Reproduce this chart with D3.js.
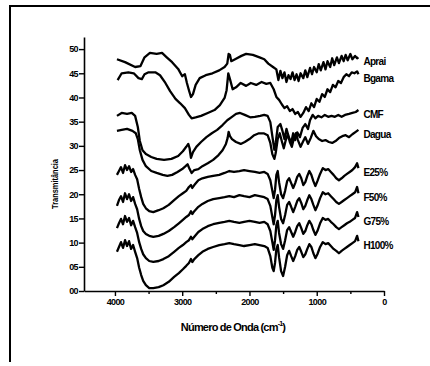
<!DOCTYPE html>
<html>
<head>
<meta charset="utf-8">
<script src="https://cdn.jsdelivr.net/npm/d3@7"></script>
<style>
  body { margin: 0; background: #fff; }
  svg { display: block; }
  text { font-family: "Liberation Sans", Arial, sans-serif; fill: #000; }
</style>
</head>
<body>
<svg id="chart" width="430" height="366"></svg>
<script>
// series labels, top to bottom
const seriesNames = ["Aprai", "Bgama", "CMF", "Dagua", "E25%", "F50%", "G75%", "H100%"];

// x axis ticks (wavenumber, cm-1)
const xTicks = [4000, 3000, 2000, 1000, 0];
const xMinorTicks = [3500, 2500, 1500, 500];
// y axis ticks
const yTicks = [0, 5, 10, 15, 20, 25, 30, 35, 40, 45, 50];

// [wavenumber, transmittance]
const aprai = [
  [3970,47.9],[3850,47.3],[3700,46.3],[3620,46.5],[3560,48.3],[3480,49.2],[3380,49.0],[3300,49.2],
  [3230,48.3],[3150,47.3],[3060,45.9],[3000,44.4],[2960,44.8],[2930,43.0],[2900,41.5],[2870,40.1],
  [2840,40.7],[2800,42.6],[2740,44.0],[2650,44.6],[2550,45.0],[2450,45.6],[2370,46.3],[2330,47.0],
  [2310,49.0],[2290,48.8],[2270,47.5],[2200,48.0],[2120,48.6],[2050,49.0],[1950,48.8],[1850,48.3],
  [1780,47.9],[1720,47.0],[1650,46.3],[1600,45.8],[1570,43.6],[1540,45.5],[1510,44.0],[1480,45.2],
  [1450,43.2],[1420,44.6],[1390,43.8],[1360,45.2],[1330,43.6],[1300,44.8],[1270,43.4],[1240,45.0],
  [1200,44.0],[1170,45.6],[1140,44.2],[1100,46.1],[1070,44.8],[1040,46.3],[1000,45.2],[970,46.9],
  [940,45.6],[900,47.3],[870,45.8],[840,47.5],[800,46.3],[770,48.1],[740,46.7],[700,48.3],
  [670,47.1],[630,48.6],[600,47.5],[570,48.8],[540,47.7],[500,49.0],[470,47.9],[430,48.6],
  [400,48.1],[380,48.3]
];

const bgama = [
  [3960,43.6],[3900,45.0],[3800,45.2],[3720,45.0],[3650,44.0],[3600,43.8],[3560,44.8],[3500,45.2],
  [3400,45.2],[3330,44.6],[3250,43.0],[3180,41.3],[3100,39.7],[3030,38.8],[2960,37.8],[2900,36.4],
  [2860,35.7],[2800,35.9],[2720,36.2],[2620,36.8],[2520,37.4],[2440,38.4],[2370,39.9],[2340,41.5],
  [2315,45.0],[2290,43.8],[2250,41.7],[2200,42.1],[2130,43.0],[2050,42.4],[1980,43.0],[1900,42.6],
  [1820,43.2],[1750,42.8],[1690,43.0],[1640,41.7],[1600,40.1],[1560,39.5],[1520,38.6],[1480,37.8],
  [1440,38.2],[1400,37.2],[1360,37.6],[1320,36.6],[1280,37.0],[1240,36.0],[1200,36.8],[1160,38.0],
  [1120,37.2],[1080,38.8],[1040,38.0],[1000,39.7],[960,39.1],[920,40.7],[880,40.1],[840,41.7],
  [800,41.1],[760,42.6],[720,42.1],[680,43.4],[640,43.0],[600,44.2],[560,44.8],[520,44.4],
  [480,45.2],[440,45.0],[400,45.4],[380,44.8]
];

const cmf = [
  [3970,36.2],[3900,36.8],[3820,36.6],[3750,36.8],[3700,36.2],[3660,33.9],[3630,31.0],[3590,29.1],
  [3540,28.3],[3460,27.7],[3380,27.3],[3270,27.1],[3160,27.3],[3060,27.9],[2990,28.9],[2940,29.8],
  [2910,30.4],[2890,29.5],[2870,27.5],[2840,28.7],[2790,29.8],[2720,30.8],[2640,31.8],[2560,32.6],
  [2480,33.3],[2400,34.3],[2330,35.3],[2260,36.0],[2200,36.6],[2140,36.8],[2070,36.4],[1990,35.9],
  [1920,36.0],[1840,36.2],[1780,36.4],[1730,36.2],[1690,34.9],[1660,32.0],[1630,29.2],[1610,30.6],
  [1580,33.9],[1540,34.5],[1510,33.1],[1480,31.4],[1450,33.5],[1420,32.0],[1380,30.6],[1350,32.6],
  [1320,31.2],[1290,32.8],[1250,31.8],[1210,33.7],[1170,34.5],[1130,33.5],[1100,35.3],[1060,36.4],
  [1020,35.7],[980,36.2],[930,35.9],[880,36.4],[830,36.0],[780,36.2],[730,36.0],[680,36.4],
  [630,36.0],[580,36.4],[520,36.6],[470,36.8],[420,37.0],[380,37.4]
];

const dagua = [
  [3970,33.1],[3900,33.3],[3820,33.5],[3740,33.1],[3690,32.6],[3660,31.4],[3630,29.1],[3590,27.1],
  [3540,25.8],[3460,24.8],[3380,24.4],[3290,24.0],[3220,23.8],[3150,24.0],[3070,24.6],[3000,25.2],
  [2950,25.8],[2920,26.2],[2890,25.2],[2860,24.4],[2820,25.0],[2760,25.2],[2700,25.8],[2620,26.4],
  [2540,27.1],[2460,28.1],[2400,29.1],[2350,30.4],[2325,31.6],[2310,32.9],[2290,32.0],[2260,31.4],
  [2200,30.8],[2130,30.4],[2070,30.8],[2000,31.4],[1930,32.2],[1860,32.6],[1790,32.6],[1730,32.2],
  [1690,30.6],[1660,28.3],[1630,27.3],[1610,28.5],[1580,31.4],[1550,32.6],[1520,31.0],[1490,29.5],
  [1460,31.2],[1430,32.4],[1400,30.8],[1370,29.8],[1340,31.6],[1310,32.6],[1280,31.2],[1240,29.8],
  [1200,31.0],[1170,31.8],[1130,30.4],[1090,31.6],[1050,33.1],[1010,32.0],[970,31.4],[920,31.0],
  [870,31.2],[820,30.8],[770,30.6],[720,31.0],[670,31.6],[620,32.0],[570,32.2],[520,31.8],
  [470,32.4],[420,32.9],[380,33.3]
];

const e25 = [
  [3970,24.0],[3940,24.8],[3910,25.6],[3880,24.4],[3850,26.0],[3820,25.0],[3790,25.8],[3760,24.6],
  [3730,25.2],[3700,24.0],[3670,23.1],[3640,21.1],[3610,19.4],[3580,18.0],[3540,17.1],[3490,16.5],
  [3430,16.3],[3350,16.7],[3280,17.1],[3200,17.8],[3120,18.8],[3050,19.6],[2990,20.2],[2940,20.7],
  [2900,21.5],[2870,21.9],[2850,21.3],[2820,21.9],[2760,22.9],[2700,23.3],[2620,23.6],[2540,23.8],
  [2450,24.0],[2370,24.4],[2300,24.8],[2230,24.6],[2150,24.8],[2080,25.0],[2000,24.8],[1920,24.6],
  [1850,24.4],[1780,24.6],[1730,24.2],[1690,22.9],[1660,20.7],[1640,19.2],[1620,20.9],[1600,24.0],
  [1580,24.8],[1560,22.5],[1530,20.0],[1500,19.2],[1470,20.7],[1440,22.7],[1410,23.3],[1380,22.3],
  [1350,21.3],[1320,22.3],[1290,23.6],[1260,24.2],[1230,23.3],[1200,21.9],[1170,22.5],[1140,23.8],
  [1110,24.8],[1080,24.0],[1050,22.7],[1020,21.7],[990,22.7],[950,24.2],[910,25.4],[870,25.0],
  [830,25.2],[790,24.6],[750,24.0],[710,23.3],[670,22.9],[630,23.3],[590,23.8],[550,24.2],
  [510,24.6],[470,25.0],[430,25.6],[400,26.4],[380,25.4]
];

const f50 = [
  [3970,17.6],[3940,18.8],[3910,19.6],[3880,18.4],[3850,20.2],[3820,19.0],[3790,20.0],[3760,18.6],
  [3730,19.4],[3700,18.0],[3670,16.9],[3640,14.9],[3610,13.4],[3580,12.4],[3540,11.8],[3490,11.4],
  [3430,11.2],[3350,11.4],[3280,11.8],[3200,12.4],[3120,13.2],[3050,14.0],[2990,14.7],[2940,15.3],
  [2900,15.7],[2870,16.5],[2850,15.9],[2820,16.5],[2760,17.4],[2700,18.0],[2620,18.6],[2540,19.0],
  [2450,19.2],[2370,19.4],[2300,19.6],[2230,19.4],[2150,19.8],[2080,19.6],[2000,19.4],[1920,19.8],
  [1850,19.6],[1780,19.4],[1730,19.0],[1690,17.6],[1660,15.3],[1640,13.8],[1620,15.7],[1600,18.8],
  [1580,19.8],[1560,17.4],[1530,14.9],[1500,14.0],[1470,15.7],[1440,17.8],[1410,18.4],[1380,17.4],
  [1350,16.3],[1320,17.4],[1290,18.6],[1260,19.2],[1230,18.2],[1200,16.9],[1170,17.6],[1140,18.8],
  [1110,19.8],[1080,19.0],[1050,17.8],[1020,16.7],[990,17.6],[950,19.2],[910,20.4],[870,20.0],
  [830,20.2],[790,19.6],[750,19.0],[710,18.4],[670,18.0],[630,18.4],[590,18.8],[550,19.2],
  [510,19.6],[470,20.0],[430,20.4],[400,21.5],[380,20.2]
];

const g75 = [
  [3970,13.0],[3940,14.0],[3910,14.9],[3880,13.8],[3850,15.5],[3820,14.3],[3790,15.1],[3760,13.6],
  [3730,14.5],[3700,13.2],[3670,12.0],[3640,10.1],[3610,8.7],[3580,7.6],[3540,6.8],[3490,6.2],
  [3430,6.0],[3350,6.2],[3280,6.6],[3200,7.2],[3120,8.1],[3050,8.9],[2990,9.5],[2940,10.1],
  [2900,10.5],[2870,11.2],[2850,10.7],[2820,11.2],[2760,12.2],[2700,12.8],[2620,13.4],[2540,13.8],
  [2450,14.1],[2370,14.3],[2300,14.5],[2230,14.3],[2150,14.1],[2080,14.3],[2000,14.5],[1920,14.3],
  [1850,14.1],[1780,14.3],[1730,13.8],[1690,12.4],[1660,10.1],[1640,8.5],[1620,10.5],[1600,13.6],
  [1580,14.5],[1560,12.0],[1530,9.7],[1500,8.7],[1470,10.5],[1440,12.6],[1410,13.2],[1380,12.2],
  [1350,11.2],[1320,12.2],[1290,13.4],[1260,14.0],[1230,13.0],[1200,11.8],[1170,12.4],[1140,13.6],
  [1110,14.5],[1080,13.8],[1050,12.6],[1020,11.6],[990,12.4],[950,14.0],[910,15.1],[870,14.7],
  [830,14.9],[790,14.3],[750,13.8],[710,13.2],[670,12.8],[630,13.2],[590,13.6],[550,14.0],
  [510,14.3],[470,14.7],[430,15.1],[400,16.3],[380,15.3]
];

const h100 = [
  [3970,8.1],[3940,9.1],[3910,10.1],[3880,8.9],[3850,10.5],[3820,9.3],[3790,10.3],[3760,8.7],
  [3730,9.5],[3700,8.1],[3670,6.8],[3640,4.8],[3610,3.3],[3580,2.1],[3540,1.2],[3490,0.6],
  [3430,0.6],[3350,0.8],[3280,1.2],[3200,1.9],[3120,2.9],[3050,3.7],[2990,4.5],[2940,5.2],
  [2900,5.8],[2870,6.6],[2850,6.0],[2820,6.6],[2760,7.4],[2700,8.1],[2620,8.7],[2540,9.1],
  [2450,9.5],[2370,9.7],[2300,9.9],[2230,9.7],[2150,9.5],[2080,9.3],[2000,9.5],[1920,9.7],
  [1850,9.5],[1780,9.3],[1730,8.9],[1690,7.2],[1660,4.8],[1640,4.1],[1620,5.8],[1600,8.7],
  [1580,9.5],[1560,7.0],[1530,4.1],[1500,3.1],[1470,5.0],[1440,7.4],[1410,8.3],[1380,7.2],
  [1350,6.2],[1320,7.2],[1290,8.5],[1260,9.1],[1230,8.1],[1200,7.0],[1170,7.6],[1140,8.7],
  [1110,9.7],[1080,9.1],[1050,7.8],[1020,6.8],[990,7.6],[950,9.1],[910,10.1],[870,9.7],
  [830,9.9],[790,9.3],[750,8.7],[710,8.3],[670,7.8],[630,8.3],[590,8.7],[550,9.1],
  [510,9.5],[470,9.9],[430,10.3],[400,11.4],[380,10.3]
];

const spectra = [aprai, bgama, cmf, dagua, e25, f50, g75, h100];

const svg = d3.select("#chart");

// outer frame of the scanned page
svg.append("path")
  .attr("d", "M10,362 L10,6 L430,6")
  .attr("fill", "none")
  .attr("stroke", "#000")
  .attr("stroke-width", 2);

// scales
const x = d3.scaleLinear().domain([4460, 0]).range([84, 384]);
const y = d3.scaleLinear().domain([0, 52.5]).range([291, 37]);

// x axis
svg.append("g")
  .attr("transform", "translate(0,291)")
  .call(d3.axisBottom(x).tickValues(xTicks).tickSize(5).tickPadding(3)
    .tickFormat(d3.format("d")).tickSizeOuter(0));
svg.append("g")
  .attr("transform", "translate(0,291)")
  .call(d3.axisBottom(x).tickValues(xMinorTicks).tickSize(3).tickFormat("").tickSizeOuter(0))
  .select(".domain").remove();

// y axis
svg.append("g")
  .attr("transform", "translate(84,0)")
  .call(d3.axisLeft(y).tickValues(yTicks).tickSize(5).tickPadding(1)
    .tickFormat(d3.format("02d")).tickSizeOuter(0));

svg.selectAll(".domain").attr("stroke", "#000").attr("stroke-width", 1.6);
svg.selectAll(".tick line").attr("stroke", "#000").attr("stroke-width", 1.4);
svg.selectAll(".tick text")
  .attr("font-family", "'Liberation Sans', Arial, sans-serif")
  .attr("font-size", 9)
  .attr("font-weight", "bold")
  .attr("letter-spacing", -0.6)
  .attr("fill", "#000");

// spectra
const line = d3.line()
  .x(d => x(d[0]))
  .y(d => y(d[1]));

svg.append("g").selectAll("path")
  .data(spectra)
  .enter()
  .append("path")
  .attr("d", line)
  .attr("fill", "none")
  .attr("stroke", "#000")
  .attr("stroke-width", 2.3)
  .attr("stroke-linejoin", "round");

// labels at the right end of each spectrum
svg.append("g").selectAll("text")
  .data(spectra)
  .enter()
  .append("text")
  .text((d, i) => seriesNames[i])
  .attr("x", d => x(d[d.length - 1][0]) + 5)
  .attr("y", d => y(d[d.length - 1][1]) + 8)
  .attr("font-size", 10)
  .attr("font-weight", "bold")
  .attr("letter-spacing", -0.7);

// axis titles
const xTitle = svg.append("text")
  .attr("x", 233)
  .attr("y", 331)
  .attr("text-anchor", "middle")
  .attr("font-size", 11)
  .attr("font-weight", "bold")
  .attr("letter-spacing", -0.8);
xTitle.append("tspan").text("Número de Onda (cm");
xTitle.append("tspan").text("-1").attr("font-size", 7).attr("dy", -5);
xTitle.append("tspan").text(")").attr("dy", 5);

svg.append("text")
  .attr("transform", "translate(58,184) rotate(-90)")
  .attr("text-anchor", "middle")
  .attr("font-size", 9)
  .attr("font-weight", "bold")
  .attr("textLength", 50)
  .attr("lengthAdjust", "spacingAndGlyphs")
  .text("Transmitância");
</script>
</body>
</html>
